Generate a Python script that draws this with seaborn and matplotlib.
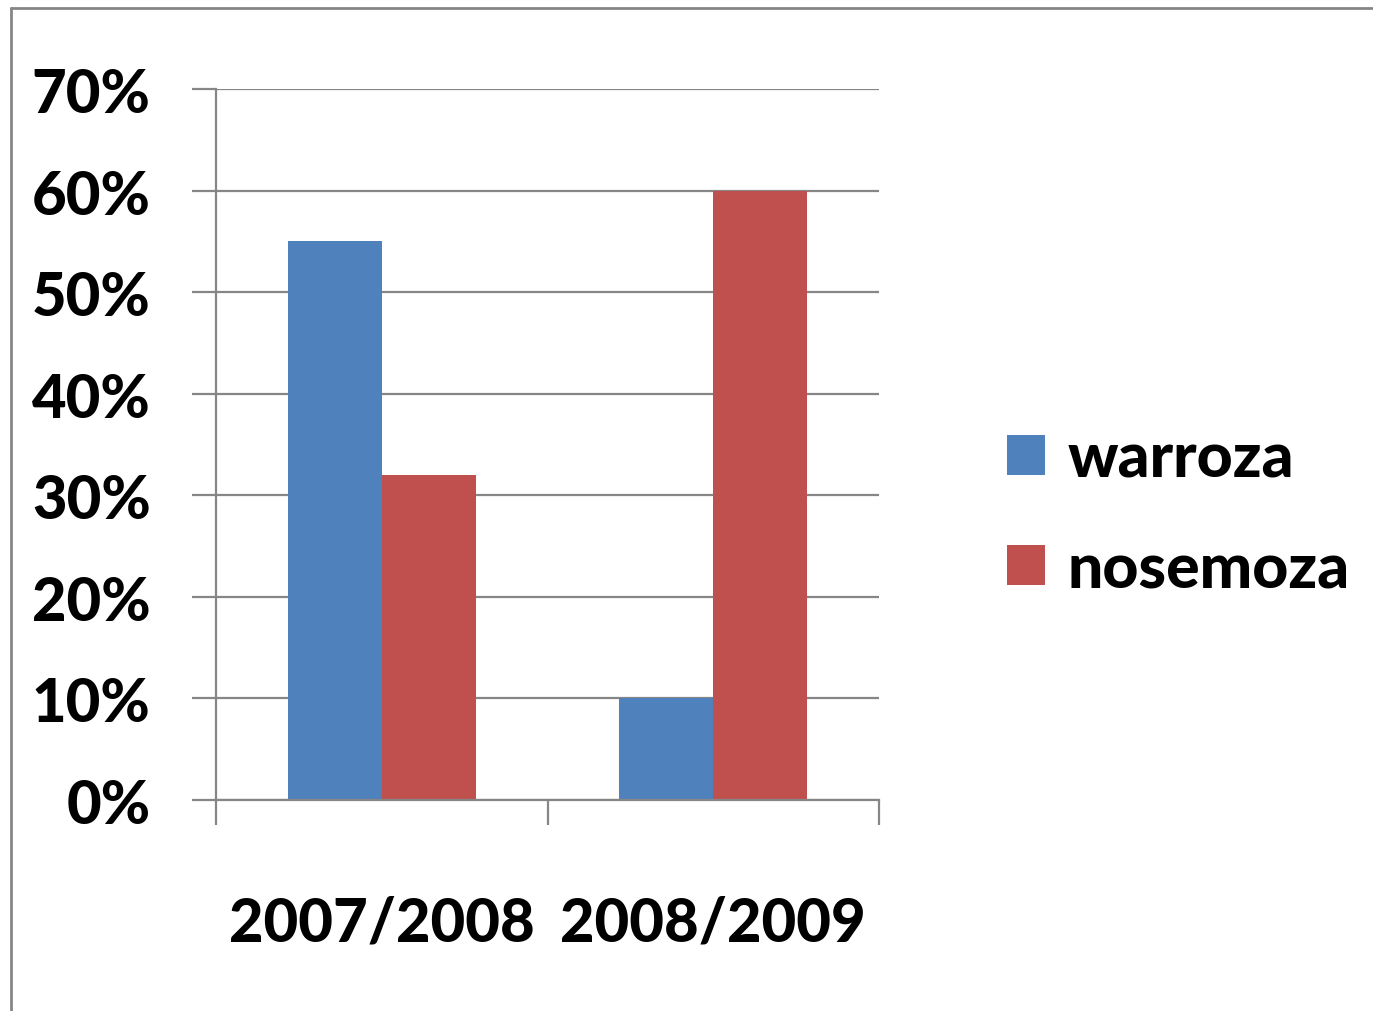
import matplotlib
matplotlib.use("Agg")
import matplotlib.pyplot as plt
import seaborn as sns
import pandas as pd
from matplotlib.lines import Line2D
from matplotlib.patches import Patch
from matplotlib.ticker import FuncFormatter

categories = ["2007/2008", "2008/2009"]
series_names = ["warroza", "nosemoza"]
warroza = [0.55, 0.10]
nosemoza = [0.32, 0.60]
y_ticks = [0, 0.1, 0.2, 0.3, 0.4, 0.5, 0.6, 0.7]
colors = ["#4F81BD", "#C0504D"]

df = pd.DataFrame({
    "season": categories * 2,
    "disease": [series_names[0]] * 2 + [series_names[1]] * 2,
    "value": warroza + nosemoza,
})

sns.set_style("white")
plt.rcParams["font.family"] = ["Lato", "DejaVu Sans"]
plt.rcParams["font.weight"] = "black"
plt.rcParams["text.color"] = "black"
plt.rcParams["xtick.color"] = "black"
plt.rcParams["ytick.color"] = "black"

W, H = 1373, 1012
fig = plt.figure(figsize=(W / 100, H / 100), dpi=100)
ax = fig.add_axes([216 / W, 1 - 801 / H, (879 - 216) / W, (801 - 90) / H])

gray = "#868686"
sns.barplot(data=df, x="season", y="value", hue="disease", palette=colors,
            width=0.567, ax=ax, saturation=1, linewidth=0, zorder=3, legend=False)

ax.set_xlim(-0.5, 1.5)
ax.set_ylim(0, 0.7)
ax.set_yticks(y_ticks)
ax.yaxis.set_major_formatter(FuncFormatter(lambda v, p: f"{round(v*100)}%"))
ax.yaxis.grid(True, color=gray, linewidth=1.6, zorder=0)
ax.set_axisbelow(True)
ax.set_xlabel("")
ax.set_ylabel("")

for s in ["top", "right"]:
    ax.spines[s].set_visible(False)
for s in ["left", "bottom"]:
    ax.spines[s].set_color(gray)
    ax.spines[s].set_linewidth(1.6)
    ax.spines[s].set_zorder(4)

ax.set_xticks([0, 1])
ax.set_xticks([-0.5, 0.5, 1.5], minor=True)
ax.tick_params(axis="x", which="major", length=0, pad=68, labelsize=43,
               labelcolor="black", bottom=True)
ax.tick_params(axis="x", which="minor", length=18, width=1.6, color=gray,
               direction="out", bottom=True)
ax.tick_params(axis="y", which="major", length=17, width=1.6, color=gray, direction="out",
               pad=30, labelsize=43, left=True, labelcolor="black")
for lbl in ax.get_xticklabels() + ax.get_yticklabels():
    lbl.set_fontweight("black")

handles = [Patch(facecolor=c, edgecolor="none") for c in colors]
fig.legend(handles, series_names, loc="center left",
           bbox_to_anchor=(1007 / W, 1 - 515 / H), frameon=False,
           borderpad=0, borderaxespad=0,
           prop={"family": ["Lato", "DejaVu Sans"], "weight": "black", "size": 45},
           handlelength=0.6, handleheight=0.6, handletextpad=0.37, labelspacing=0.84)

# outer chart-area border
fig.add_artist(Line2D([11 / W, 11 / W], [0, 1 - 9 / H], color=gray, linewidth=2, transform=fig.transFigure))
fig.add_artist(Line2D([11 / W, 1], [1 - 9 / H, 1 - 9 / H], color=gray, linewidth=2, transform=fig.transFigure))

fig.savefig("out.png", dpi=100, facecolor="white")
